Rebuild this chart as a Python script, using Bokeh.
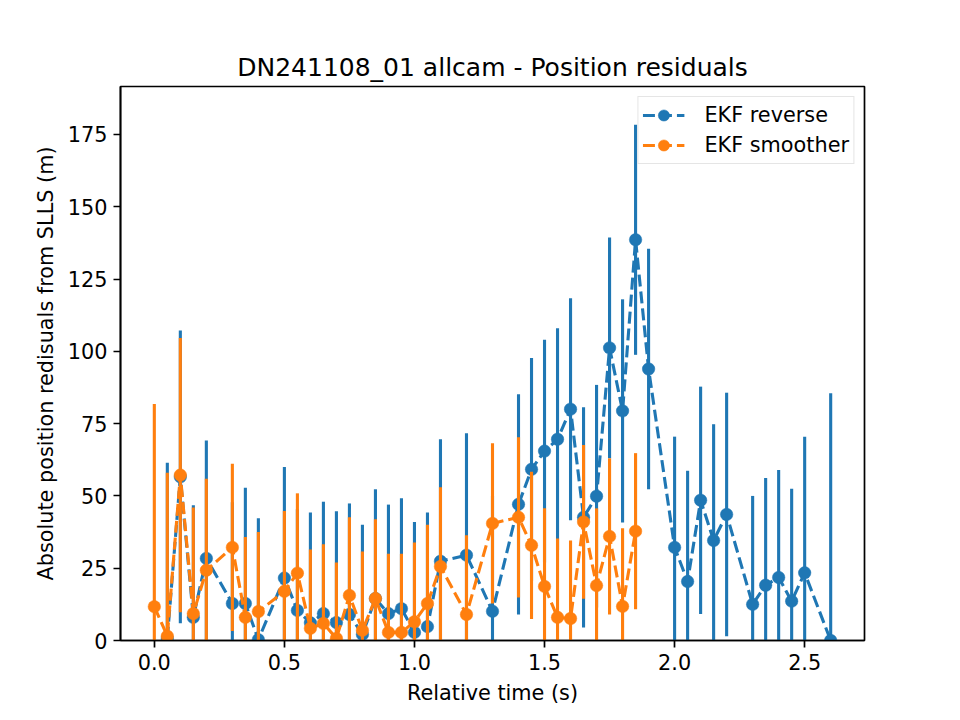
import math
from bokeh.plotting import figure
from bokeh.models import ColumnDataSource, Range1d, Legend, LegendItem, FixedTicker, Title
from bokeh.embed import file_html
from bokeh.resources import INLINE

# ---- data ----
t_rev = [0.05, 0.10, 0.15, 0.20, 0.30, 0.35, 0.40, 0.50, 0.55, 0.60, 0.65, 0.70, 0.75, 0.80,
         0.85, 0.90, 0.95, 1.00, 1.05, 1.10, 1.20, 1.30, 1.40, 1.45, 1.50, 1.55, 1.60, 1.65,
         1.70, 1.75, 1.80, 1.85, 1.90, 2.00, 2.05, 2.10, 2.15, 2.20, 2.30, 2.35, 2.40, 2.45,
         2.50, 2.60]
res_rev = [0.7, 56.6, 8.0, 28.4, 12.8, 12.8, 0.3, 21.6, 10.4, 6.1, 9.3, 6.2, 9.0, 2.1,
           14.5, 9.3, 11.0, 2.8, 4.8, 27.4, 29.5, 10.1, 47.1, 59.2, 65.5, 69.6, 80.0, 42.6,
           49.9, 101.2, 79.4, 138.6, 93.9, 32.2, 20.4, 48.5, 34.6, 43.6, 12.5, 19.1, 21.8, 13.6,
           23.4, 0.0]
err_rev = [60.8, 50.6, 38.8, 40.8, 35.0, 40.0, 42.0, 38.4, 35.0, 38.2, 38.7, 38.5, 38.4, 37.9,
           37.8, 37.7, 38.2, 38.2, 39.5, 42.2, 42.2, 40.0, 38.1, 38.5, 38.5, 38.4, 38.4, 38.1,
           38.5, 38.2, 38.6, 39.8, 41.6, 38.3, 38.3, 39.3, 40.2, 42.1, 37.5, 37.1, 37.2, 38.9,
           47.1, 85.5]

t_smo = [0.00, 0.05, 0.10, 0.15, 0.20, 0.30, 0.35, 0.40, 0.50, 0.55, 0.60, 0.65, 0.70, 0.75,
         0.80, 0.85, 0.90, 0.95, 1.00, 1.05, 1.10, 1.20, 1.30, 1.40, 1.45, 1.50, 1.55, 1.60,
         1.65, 1.70, 1.75, 1.80, 1.85]
res_smo = [11.7, 1.5, 57.2, 9.3, 24.3, 32.2, 8.0, 10.0, 17.0, 23.3, 4.2, 5.9, 0.7, 15.6,
           3.5, 14.5, 2.8, 2.8, 6.5, 12.8, 25.6, 9.0, 40.5, 42.6, 32.9, 18.7, 8.0, 7.6,
           41.0, 19.0, 36.0, 11.8, 37.8]
err_smo = [70.1, 56.5, 47.4, 36.7, 31.6, 28.9, 27.8, 27.5, 27.8, 27.6, 27.3, 27.4, 26.3, 27.0,
           27.3, 27.4, 27.2, 27.2, 27.4, 27.2, 27.4, 27.4, 27.7, 27.7, 25.5, 27.0, 27.3, 27.0,
           26.6, 26.7, 27.0, 27.0, 27.0]

x_ticks = [0.0, 0.5, 1.0, 1.5, 2.0, 2.5]
y_ticks = [0, 25, 50, 75, 100, 125, 150, 175]

title_text = "DN241108_01 allcam - Position residuals"
x_label = "Relative time (s)"
y_label = "Absolute position redisuals from SLLS (m)"
name_rev = "EKF reverse"
name_smo = "EKF smoother"

BLUE = "#1f77b4"
ORANGE = "#ff7f0e"
FONT = "DejaVu Sans"

p = figure(width=960, height=720, output_backend="svg", toolbar_location=None,
           x_range=Range1d(-0.13, 2.73), y_range=Range1d(0, 191.6),
           min_border_left=120, min_border_right=96, min_border_top=86, min_border_bottom=80)
p.title = None
p.add_layout(Title(text=title_text, align="center", text_font=FONT, text_font_size="25px",
                   text_font_style="normal", text_color="black", standoff=10), "above")

p.background_fill_color = "white"
p.border_fill_color = "white"
p.outline_line_color = "black"
p.outline_line_width = 1.7
p.grid.visible = False

for ax in (p.xaxis[0], p.yaxis[0]):
    ax.axis_line_color = "black"
    ax.axis_line_width = 1.7
    ax.major_tick_line_color = "black"
    ax.major_tick_line_width = 1.7
    ax.major_tick_out = 7
    ax.major_tick_in = 0
    ax.minor_tick_line_color = None
    ax.major_label_text_font = FONT
    ax.major_label_text_font_size = "20.8px"
    ax.major_label_text_color = "black"
    ax.axis_label_text_font = FONT
    ax.axis_label_text_font_size = "20.8px"
    ax.axis_label_text_font_style = "normal"
    ax.axis_label_text_color = "black"
    ax.major_label_standoff = 6

p.xaxis.ticker = FixedTicker(ticks=x_ticks)
p.xaxis.major_label_overrides = {t: f"{t:.1f}" for t in x_ticks}
p.yaxis.ticker = FixedTicker(ticks=y_ticks)
p.xaxis.axis_label = x_label
p.yaxis.axis_label = y_label
p.xaxis.axis_label_standoff = 8
p.yaxis.axis_label_standoff = 7

LW = 3.1
MS = 12.5
DASH = "12 5"


def series(t, r, e, color):
    src = ColumnDataSource(dict(t=t, r=r, lo=[a - b for a, b in zip(r, e)],
                                hi=[a + b for a, b in zip(r, e)]))
    p.segment(x0="t", y0="lo", x1="t", y1="hi", source=src, line_color=color, line_width=LW)
    ln = p.line("t", "r", source=src, line_color=color, line_width=LW, line_dash=DASH)
    sc = p.scatter("t", "r", source=src, marker="circle", size=MS, fill_color=color,
                   line_color=color, line_width=0.5)
    return ln, sc


l1, s1 = series(t_rev, res_rev, err_rev, BLUE)
l2, s2 = series(t_smo, res_smo, err_smo, ORANGE)

legend = Legend(items=[LegendItem(label=name_rev, renderers=[l1, s1]),
                       LegendItem(label=name_smo, renderers=[l2, s2])],
                location="top_right", margin=10, padding=4, spacing=2,
                glyph_width=42, glyph_height=28, label_standoff=20,
                label_text_font=FONT, label_text_font_size="20.8px",
                label_text_color="black",
                border_line_color="#cccccc", border_line_width=1.2,
                background_fill_color="white", background_fill_alpha=0.8)
p.add_layout(legend)

open("out.html", "w").write(file_html(p, INLINE))
